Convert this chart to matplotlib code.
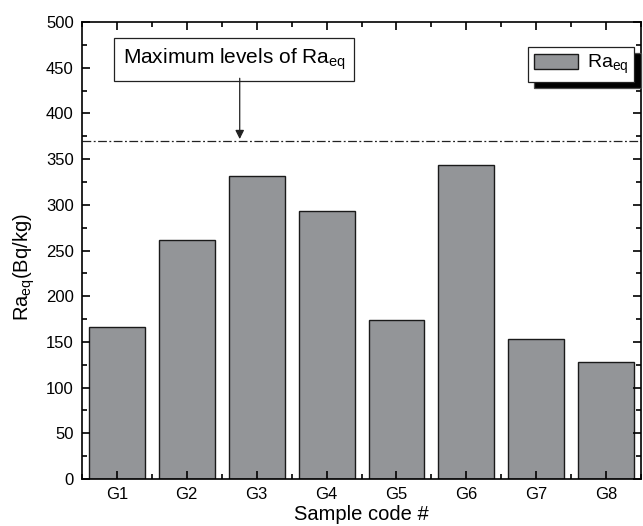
import matplotlib
matplotlib.use("Agg")
import matplotlib.pyplot as plt
from matplotlib.ticker import MultipleLocator

plt.rcParams['font.family'] = ['Liberation Sans', 'DejaVu Sans']
plt.rcParams['mathtext.fontset'] = 'custom'
plt.rcParams['mathtext.rm'] = 'Liberation Sans'
plt.rcParams['mathtext.it'] = 'Liberation Sans'

categories = ['G1', 'G2', 'G3', 'G4', 'G5', 'G6', 'G7', 'G8']
values = [166, 262, 332, 293, 174, 344, 153, 128]
limit_value = 370
y_ticks = [0, 50, 100, 150, 200, 250, 300, 350, 400, 450, 500]

fig = plt.figure(figsize=(6.43, 5.26), dpi=100)
ax = fig.add_axes([0.1275, 0.0894, 0.8695, 0.8686])

x = list(range(1, len(categories) + 1))
ax.bar(x, values, width=0.8, color='#939598', edgecolor='#1a1a1a', linewidth=1.0,
       label='Ra$_{\\mathrm{eq}}$')
ax.axhline(limit_value, color='#222222', linewidth=0.9, linestyle=(0, (7, 2, 1.5, 2)))

ax.set_xlim(0.5, 8.5)
ax.set_ylim(0, 500)
ax.set_xticks(x)
ax.set_xticklabels(categories)
ax.xaxis.set_minor_locator(MultipleLocator(0.5))
ax.set_yticks(y_ticks)
ax.yaxis.set_minor_locator(MultipleLocator(25))

ax.tick_params(axis='both', which='both', direction='in', top=True, right=True,
               labelsize=12, width=1.2)
ax.tick_params(axis='both', which='major', length=6, pad=6)
ax.tick_params(axis='both', which='minor', length=3.5)
for s in ax.spines.values():
    s.set_linewidth(1.2)

ax.set_xlabel('Sample code #', fontsize=14.5, labelpad=2)
ax.set_ylabel('Ra$_{\\mathrm{eq}}$(Bq/kg)', fontsize=14.5)
ax.yaxis.set_label_coords(-0.080, 0.464)

# annotation box
ax.text(2.68, 459, 'Maximum levels of Ra$_{\\mathrm{eq}}$', ha='center', va='center',
        fontsize=15,
        bbox=dict(boxstyle='square,pad=0.42', fc='white', ec='#222222', lw=0.9))
ax.annotate('', xy=(2.757, 372), xytext=(2.757, 438.5),
            arrowprops=dict(arrowstyle='-|>', color='#222222', lw=0.9,
                            mutation_scale=13, shrinkA=0, shrinkB=0))

leg = ax.legend(loc='upper right', bbox_to_anchor=(0.988, 0.945), fontsize=14,
                fancybox=False, framealpha=1, edgecolor='#222222',
                handlelength=2.3, handleheight=0.85, borderpad=0.3,
                handletextpad=0.45, borderaxespad=0,
                shadow={'ox': 4.5, 'oy': -4.5, 'facecolor': 'black', 'alpha': 1})
leg.get_frame().set_linewidth(0.9)

fig.savefig('out.png', dpi=100)
